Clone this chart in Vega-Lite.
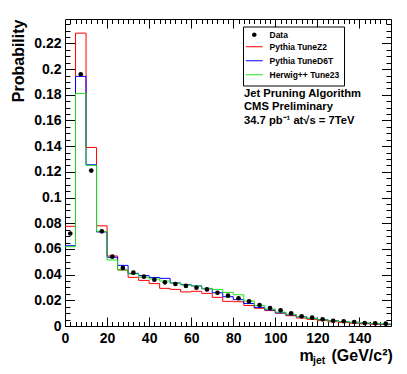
{
  "$schema": "https://vega.github.io/schema/vega-lite/v6.json",
  "width": 326,
  "height": 307,
  "autosize": "none",
  "padding": {"left": 65, "top": 19, "right": 16, "bottom": 48},
  "background": "white",
  "view": {"stroke": "black", "strokeWidth": 1},
  "config": {
    "font": "Liberation Sans",
    "axis": {"domain": false, "grid": false, "tickColor": "black", "tickWidth": 1, "labelFont": "Liberation Sans", "labelFontWeight": "bold", "labelFontSize": 14, "labelColor": "black", "titleFont": "Liberation Sans", "titleFontWeight": "bold", "titleColor": "black", "labelFlush": false, "labelOverlap": false}
  },
  "title": {
    "text": ["Jet Pruning Algorithm", "CMS Preliminary", "34.7 pb⁻¹ at√s = 7TeV"],
    "anchor": "start", "frame": "group", "orient": "top", "offset": 0,
    "dx": 179, "dy": 107.5, "baseline": "top", "align": "left",
    "font": "Liberation Sans", "fontWeight": "bold", "fontSize": 11.2, "lineHeight": 13.4, "color": "black"
  },
  "datasets": {
    "data": [
      {"m": 2.5, "p": 0.072}, {"m": 7.5, "p": 0.196}, {"m": 12.5, "p": 0.121}, {"m": 17.5, "p": 0.0737},
      {"m": 22.5, "p": 0.054}, {"m": 27.5, "p": 0.0452}, {"m": 32.5, "p": 0.0415}, {"m": 37.5, "p": 0.0384},
      {"m": 42.5, "p": 0.036}, {"m": 47.5, "p": 0.034}, {"m": 52.5, "p": 0.0327}, {"m": 57.5, "p": 0.0312},
      {"m": 62.5, "p": 0.0298}, {"m": 67.5, "p": 0.0285}, {"m": 72.5, "p": 0.0259}, {"m": 77.5, "p": 0.0236},
      {"m": 82.5, "p": 0.0216}, {"m": 87.5, "p": 0.0192}, {"m": 92.5, "p": 0.0163}, {"m": 97.5, "p": 0.014},
      {"m": 102.5, "p": 0.0122}, {"m": 107.5, "p": 0.0099}, {"m": 112.5, "p": 0.0075}, {"m": 117.5, "p": 0.0065},
      {"m": 122.5, "p": 0.0052}, {"m": 127.5, "p": 0.0041}, {"m": 132.5, "p": 0.0037}, {"m": 137.5, "p": 0.0031},
      {"m": 142.5, "p": 0.0023}, {"m": 147.5, "p": 0.0021}, {"m": 152.5, "p": 0.0018}
    ],
    "mc": [
      {"m": 0, "z2": 0.0776, "d6t": 0.0625, "h23": 0.0617},
      {"m": 5, "z2": 0.228, "d6t": 0.1943, "h23": 0.181},
      {"m": 10, "z2": 0.139, "d6t": 0.1255, "h23": 0.125},
      {"m": 15, "z2": 0.078, "d6t": 0.0732, "h23": 0.0737},
      {"m": 20, "z2": 0.0545, "d6t": 0.0535, "h23": 0.0514},
      {"m": 25, "z2": 0.0436, "d6t": 0.0472, "h23": 0.0436},
      {"m": 30, "z2": 0.0379, "d6t": 0.041, "h23": 0.0405},
      {"m": 35, "z2": 0.0355, "d6t": 0.0392, "h23": 0.038},
      {"m": 40, "z2": 0.033, "d6t": 0.0378, "h23": 0.0366},
      {"m": 45, "z2": 0.0293, "d6t": 0.0371, "h23": 0.035},
      {"m": 50, "z2": 0.0285, "d6t": 0.0335, "h23": 0.0332},
      {"m": 55, "z2": 0.0265, "d6t": 0.0322, "h23": 0.0319},
      {"m": 60, "z2": 0.027, "d6t": 0.0312, "h23": 0.0312},
      {"m": 65, "z2": 0.0254, "d6t": 0.029, "h23": 0.0293},
      {"m": 70, "z2": 0.0223, "d6t": 0.0259, "h23": 0.0285},
      {"m": 75, "z2": 0.0192, "d6t": 0.0228, "h23": 0.0262},
      {"m": 80, "z2": 0.0189, "d6t": 0.0205, "h23": 0.0243},
      {"m": 85, "z2": 0.016, "d6t": 0.0175, "h23": 0.0195},
      {"m": 90, "z2": 0.0138, "d6t": 0.0145, "h23": 0.016},
      {"m": 95, "z2": 0.012, "d6t": 0.0125, "h23": 0.0132},
      {"m": 100, "z2": 0.01, "d6t": 0.0102, "h23": 0.0108},
      {"m": 105, "z2": 0.008, "d6t": 0.0086, "h23": 0.009},
      {"m": 110, "z2": 0.0062, "d6t": 0.0072, "h23": 0.0072},
      {"m": 115, "z2": 0.0052, "d6t": 0.006, "h23": 0.0058},
      {"m": 120, "z2": 0.0042, "d6t": 0.005, "h23": 0.0048},
      {"m": 125, "z2": 0.0033, "d6t": 0.0042, "h23": 0.004},
      {"m": 130, "z2": 0.0028, "d6t": 0.0035, "h23": 0.0034},
      {"m": 135, "z2": 0.0022, "d6t": 0.0028, "h23": 0.0029},
      {"m": 140, "z2": 0.0017, "d6t": 0.0022, "h23": 0.0024},
      {"m": 145, "z2": 0.0014, "d6t": 0.0018, "h23": 0.002},
      {"m": 150, "z2": 0.0011, "d6t": 0.0014, "h23": 0.0016},
      {"m": 155, "z2": 0.0011, "d6t": 0.0014, "h23": 0.0016}
    ]
  },
  "layer": [
    {
      "data": {"name": "mc"},
      "mark": {"type": "line", "interpolate": "step-after", "strokeWidth": 1, "clip": true},
      "encoding": {
        "x": {"field": "m", "type": "quantitative", "scale": {"domain": [0, 155], "nice": false, "zero": false},
          "axis": {"orient": "bottom", "values": [0, 20, 40, 60, 80, 100, 120, 140], "tickSize": -9, "labelPadding": 14, "format": "d",
            "title": "m", "titleX": 234, "titleY": 34.7, "titleAlign": "left", "titleBaseline": "alphabetic", "titleAngle": 0, "titleFontSize": 16}},
        "y": {"field": "z2", "type": "quantitative", "scale": {"domain": [0, 0.239], "nice": false, "zero": true},
          "axis": {"orient": "left", "values": [0, 0.02, 0.04, 0.06, 0.08, 0.1, 0.12, 0.14, 0.16, 0.18, 0.2, 0.22], "tickSize": -9.5, "labelPadding": 13.5, "format": "~g",
            "title": "Probability", "titleX": -47, "titleY": 0, "titleAngle": -90, "titleAlign": "right", "titleBaseline": "middle", "titleFontSize": 16}},
        "color": {"datum": "Pythia TuneZ2", "type": "nominal",
          "scale": {"domain": ["Data", "Pythia TuneZ2", "Pythia TuneD6T", "Herwig++ Tune23"], "range": ["black", "#ff0000", "#0000ff", "#22dd22"]},
          "legend": {"orient": "none", "legendX": 178, "legendY": 7.5, "title": null, "padding": 4, "fillColor": "white", "strokeColor": "black", "symbolSize": 100, "rowPadding": 1,
            "labelFont": "Liberation Sans", "labelFontWeight": "bold", "labelFontSize": 8.5, "labelColor": "black", "labelOffset": 11, "symbolOffset": 3, "labelLimit": 200, "cornerRadius": 0,
            "encode": {"symbols": {"update": {
              "shape": {"signal": "datum.value === 'Data' ? 'M-1.7,-0.8M1.7,0.8M0.45,0A0.45,0.45,0,1,1,-0.45,0A0.45,0.45,0,1,1,0.45,0Z' : 'M-1.7,-0.8M1.7,0.8M-1.7,0L1.7,0'"},
              "size": {"value": 100},
              "fill": {"signal": "datum.value === 'Data' ? '#000000' : 'transparent'"},
              "stroke": {"scale": "color", "field": "value"},
              "strokeWidth": {"signal": "datum.value === 'Data' ? 0 : 1"}, "opacity": {"value": 1}, "strokeOpacity": {"value": 1}}}}}}
      }
    },
    {
      "data": {"name": "mc"},
      "mark": {"type": "line", "interpolate": "step-after", "strokeWidth": 1, "clip": true},
      "encoding": {
        "x": {"field": "m", "type": "quantitative", "scale": {"domain": [0, 155], "nice": false, "zero": false},
          "axis": {"orient": "bottom", "values": [2.5, 5, 7.5, 10, 12.5, 15, 17.5, 22.5, 25, 27.5, 30, 32.5, 35, 37.5, 42.5, 45, 47.5, 50, 52.5, 55, 57.5, 62.5, 65, 67.5, 70, 72.5, 75, 77.5, 82.5, 85, 87.5, 90, 92.5, 95, 97.5, 102.5, 105, 107.5, 110, 112.5, 115, 117.5, 122.5, 125, 127.5, 130, 132.5, 135, 137.5, 142.5, 145, 147.5, 150, 152.5], "tickSize": -4.5, "labels": false,
            "title": "(GeV/c²)", "titleX": 266, "titleY": 34.7, "titleAlign": "left", "titleBaseline": "alphabetic", "titleAngle": 0, "titleFontSize": 16}},
        "y": {"field": "d6t", "type": "quantitative", "scale": {"domain": [0, 0.239], "nice": false, "zero": true},
          "axis": {"orient": "left", "values": [0.005, 0.01, 0.015, 0.025, 0.03, 0.035, 0.045, 0.05, 0.055, 0.065, 0.07, 0.075, 0.085, 0.09, 0.095, 0.105, 0.11, 0.115, 0.125, 0.13, 0.135, 0.145, 0.15, 0.155, 0.165, 0.17, 0.175, 0.185, 0.19, 0.195, 0.205, 0.21, 0.215, 0.225, 0.23, 0.235], "tickSize": -5, "labels": false, "title": null}},
        "color": {"datum": "Pythia TuneD6T", "type": "nominal",
          "scale": {"domain": ["Data", "Pythia TuneZ2", "Pythia TuneD6T", "Herwig++ Tune23"], "range": ["black", "#ff0000", "#0000ff", "#22dd22"]}}
      }
    },
    {
      "data": {"name": "mc"},
      "mark": {"type": "line", "interpolate": "step-after", "strokeWidth": 1, "clip": true},
      "encoding": {
        "x": {"field": "m", "type": "quantitative", "scale": {"domain": [0, 155], "nice": false, "zero": false},
          "axis": {"orient": "top", "values": [20, 40, 60, 80, 100, 120, 140], "tickSize": -9, "labels": false,
            "title": "jet", "titleX": 247.5, "titleY": 344.5, "titleAlign": "left", "titleBaseline": "alphabetic", "titleAngle": 0, "titleFontSize": 10.5}},
        "y": {"field": "h23", "type": "quantitative", "scale": {"domain": [0, 0.239], "nice": false, "zero": true},
          "axis": {"orient": "right", "values": [0.02, 0.04, 0.06, 0.08, 0.1, 0.12, 0.14, 0.16, 0.18, 0.2, 0.22], "tickSize": -9.5, "labels": false, "title": null}},
        "color": {"datum": "Herwig++ Tune23", "type": "nominal",
          "scale": {"domain": ["Data", "Pythia TuneZ2", "Pythia TuneD6T", "Herwig++ Tune23"], "range": ["black", "#ff0000", "#0000ff", "#22dd22"]}}
      }
    },
    {
      "data": {"name": "data"},
      "mark": {"type": "point", "filled": true, "size": 22, "opacity": 1},
      "encoding": {
        "x": {"field": "m", "type": "quantitative", "scale": {"domain": [0, 155], "nice": false, "zero": false},
          "axis": {"orient": "top", "values": [2.5, 5, 7.5, 10, 12.5, 15, 17.5, 22.5, 25, 27.5, 30, 32.5, 35, 37.5, 42.5, 45, 47.5, 50, 52.5, 55, 57.5, 62.5, 65, 67.5, 70, 72.5, 75, 77.5, 82.5, 85, 87.5, 90, 92.5, 95, 97.5, 102.5, 105, 107.5, 110, 112.5, 115, 117.5, 122.5, 125, 127.5, 130, 132.5, 135, 137.5, 142.5, 145, 147.5, 150, 152.5], "tickSize": -4.5, "labels": false, "title": null}},
        "y": {"field": "p", "type": "quantitative", "scale": {"domain": [0, 0.239], "nice": false, "zero": true},
          "axis": {"orient": "right", "values": [0.005, 0.01, 0.015, 0.025, 0.03, 0.035, 0.045, 0.05, 0.055, 0.065, 0.07, 0.075, 0.085, 0.09, 0.095, 0.105, 0.11, 0.115, 0.125, 0.13, 0.135, 0.145, 0.15, 0.155, 0.165, 0.17, 0.175, 0.185, 0.19, 0.195, 0.205, 0.21, 0.215, 0.225, 0.23, 0.235], "tickSize": -5, "labels": false, "title": null}},
        "color": {"datum": "Data", "type": "nominal",
          "scale": {"domain": ["Data", "Pythia TuneZ2", "Pythia TuneD6T", "Herwig++ Tune23"], "range": ["black", "#ff0000", "#0000ff", "#22dd22"]}}
      }
    }
  ],
  "resolve": {"axis": {"x": "independent", "y": "independent"}, "scale": {"x": "shared", "y": "shared", "color": "shared"}, "legend": {"color": "shared"}}
}
